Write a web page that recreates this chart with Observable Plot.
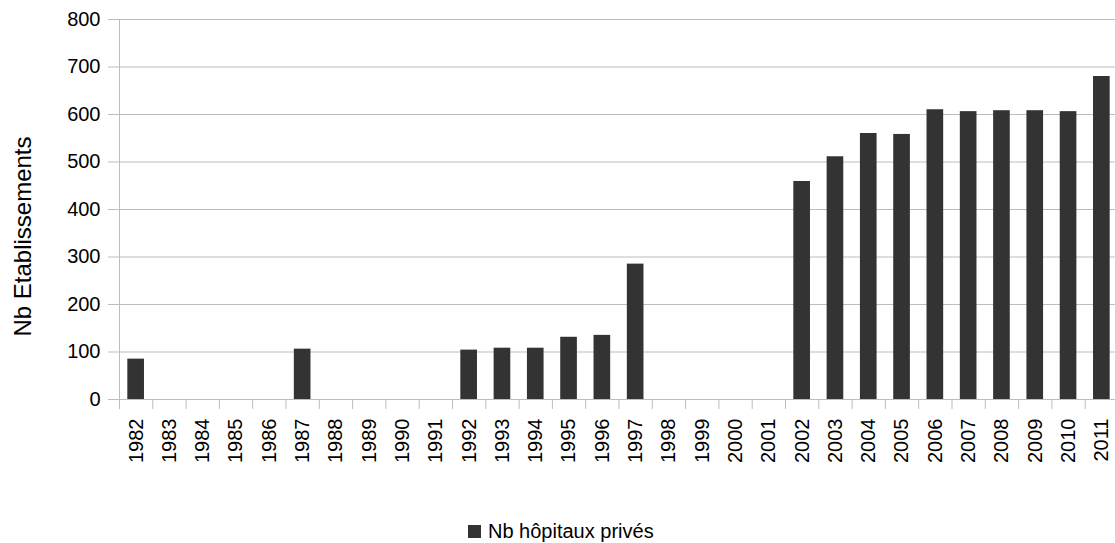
<!DOCTYPE html>
<html><head><meta charset="utf-8">
<script src="https://cdn.jsdelivr.net/npm/d3@7"></script>
<script src="https://cdn.jsdelivr.net/npm/@observablehq/plot@0.6"></script>
<style>
html,body{margin:0;padding:0;overflow:hidden;background:#fff;font-family:"Liberation Sans",Arial,sans-serif;color:#000;}
#wrap{position:relative;width:1115px;height:543px;overflow:hidden;}
#chart svg{max-width:none !important;display:block;}
#legend{position:absolute;left:468px;top:520px;display:flex;align-items:center;font-size:20px;line-height:22px;white-space:nowrap;}
#legend .sw{width:13px;height:13px;background:#333333;margin-right:7px;}
</style></head><body>
<div id="wrap"><div id="chart"></div><div id="legend"></div></div>
<script>
const years = ["1982","1983","1984","1985","1986","1987","1988","1989","1990","1991","1992","1993","1994","1995","1996","1997","1998","1999","2000","2001","2002","2003","2004","2005","2006","2007","2008","2009","2010","2011"];
const hopitauxPrives = [85,null,null,null,null,106,null,null,null,null,104,108,108,131,135,285,null,null,null,null,459,511,560,558,610,606,608,608,606,680];
const yTicks = [0,100,200,300,400,500,600,700,800];
const yTitle = "Nb Etablissements";
const legendLabels = ["Nb hôpitaux privés"];
const barColor = "#333333";
const gridColor = "#bdbdbd";

const data = years.map((y, i) => ({year: y, value: hopitauxPrives[i]})).filter(d => d.value != null);

const W = 1118, ML = 119, MR = 0, H = 505, MT = 19, MB = 106;
const bw = (W - ML - MR) / years.length;

const chart = Plot.plot({
  width: W, height: H,
  marginLeft: ML, marginRight: MR, marginTop: MT, marginBottom: MB,
  style: {fontFamily: "'Liberation Sans', Arial, sans-serif", color: "#000", background: "#fff", overflow: "visible", maxWidth: "none"},
  x: {type: "band", domain: years, padding: 0, round: false, label: null},
  y: {domain: [0, 800], label: null},
  marks: [
    Plot.gridY({ticks: yTicks, stroke: gridColor, strokeOpacity: 1}),
    Plot.axisY({ticks: yTicks, tickSize: 11, tickPadding: 8, stroke: gridColor, strokeOpacity: 1, fontSize: 20, label: null}),
    Plot.axisX({tickSize: 10, tickFormat: () => "", dx: -bw / 2, stroke: gridColor, strokeOpacity: 1, label: null}),
    Plot.axisX({tickSize: 0, tickPadding: 19, tickRotate: -90, fontSize: 20, label: null}),
    Plot.ruleX([years[0]], {y1: 0, y2: 800, dx: -bw / 2, stroke: gridColor}),
    Plot.barY(data, {x: "year", y: "value", fill: barColor, insetLeft: bw * 0.25, insetRight: bw * 0.25}),
    Plot.ruleY([0], {stroke: gridColor}),
    Plot.text([yTitle], {frameAnchor: "left", textAnchor: "middle", dx: -96, dy: 27, rotate: -90, fontSize: 24, fill: "#000", text: d => d})
  ]
});
document.getElementById("chart").appendChild(chart);

const lg = document.getElementById("legend");
legendLabels.forEach(l => {
  const sw = document.createElement("div"); sw.className = "sw"; lg.appendChild(sw);
  const t = document.createElement("span"); t.textContent = l; lg.appendChild(t);
});
</script>
</body></html>
